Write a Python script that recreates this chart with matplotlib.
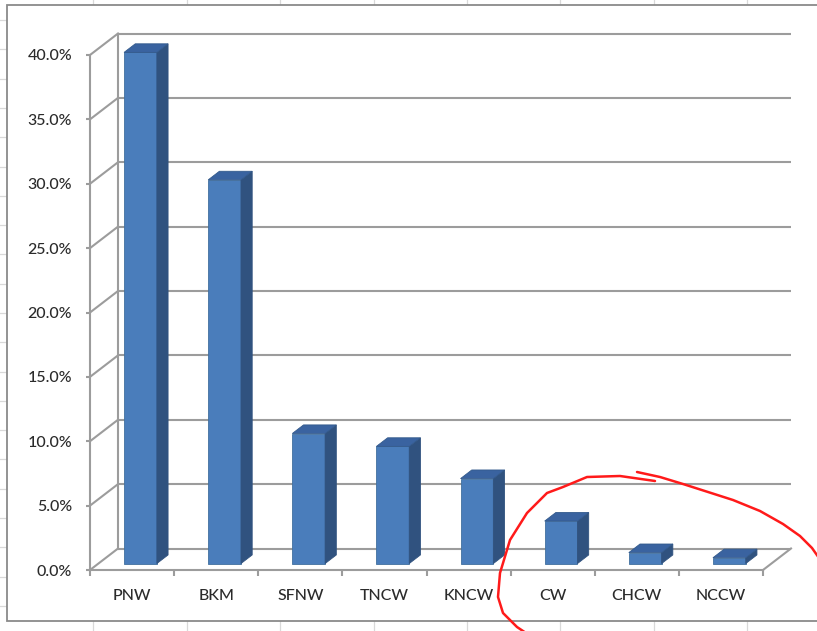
import numpy as np
import matplotlib
matplotlib.use("Agg")
import matplotlib.pyplot as plt
from matplotlib.patches import Polygon, Rectangle
from matplotlib.ticker import FuncFormatter, FixedLocator

# ---- data ----
categories = ["PNW", "BKM", "SFNW", "TNCW", "KNCW", "CW", "CHCW", "NCCW"]
values = [39.7, 29.8, 10.1, 9.1, 6.6, 3.3, 0.85, 0.45]   # percent
y_ticks = [0, 5, 10, 15, 20, 25, 30, 35, 40]

W, H = 817, 631
fig = plt.figure(figsize=(W / 100, H / 100), dpi=100)
fig.patch.set_facecolor("white")

FONT = ["Lato", "DejaVu Sans"]
TXT = "#2b2b2b"

# ---- spreadsheet background (pixel coordinates) ----
bg = fig.add_axes([0, 0, 1, 1], zorder=0)
bg.set_xlim(0, W)
bg.set_ylim(H, 0)
bg.axis("off")
for xv in np.arange(93.4, W, 93.4):
    bg.plot([xv, xv], [0, H], color="#d9d9d9", lw=0.9)
for yv in np.arange(20, H, 29.3):
    bg.plot([0, W], [yv, yv], color="#d9d9d9", lw=0.9)
bg.add_patch(Rectangle((7, 5), W + 20, 616, facecolor="white",
                       edgecolor="#8a8a8a", lw=1.3, zorder=2))

# ---- main (front plane) axes ----
x_left, x_right = 90, 763
y_zero, y_top = 570, 55
ax = fig.add_axes([x_left / W, (H - y_zero) / H,
                   (x_right - x_left) / W, (y_zero - y_top) / H], zorder=1)
ax.set_facecolor("none")
n = len(categories)
ax.set_xlim(-0.5, n - 0.5)
ax.set_ylim(0, 40)

px_per_x = (x_right - x_left) / n
px_per_y = (y_zero - y_top) / 40.0
DX = 28 / px_per_x          # full depth offset in data units
DY = 21.5 / px_per_y

GRID = "#9c9c9c"
LW = 1.5

# back wall gridlines + side wall diagonals
for v in y_ticks:
    ax.plot([-0.5 + DX, n - 0.5 + DX], [v + DY, v + DY], color=GRID, lw=LW,
            clip_on=False, zorder=1, solid_capstyle="butt")
    ax.plot([-0.5, -0.5 + DX], [v, v + DY], color=GRID, lw=LW,
            clip_on=False, zorder=1)
ax.plot([-0.5 + DX, -0.5 + DX], [DY, 40 + DY], color=GRID, lw=LW,
        clip_on=False, zorder=1)
# floor right edge
ax.plot([n - 0.5, n - 0.5 + DX], [0, DY], color=GRID, lw=LW,
        clip_on=False, zorder=1)

# ---- 3D bars ----
FRONT = "#4a7dbb"
SIDE = "#30527f"
TOP = "#3a63a0"
f0, f1 = 0.3, 0.7
bw = 0.39
for i, v in enumerate(values):
    x0 = i - bw / 2 + f0 * DX
    x1 = i + bw / 2 + f0 * DX
    yb = f0 * DY
    yt = v + f0 * DY
    ddx = (f1 - f0) * DX
    ddy = (f1 - f0) * DY
    front = Polygon([(x0, yb), (x1, yb), (x1, yt), (x0, yt)], closed=True,
                    facecolor=FRONT, edgecolor="#41709f", lw=0.6,
                    clip_on=False, zorder=3)
    side = Polygon([(x1, yb), (x1 + ddx, yb + ddy), (x1 + ddx, yt + ddy),
                    (x1, yt)], closed=True, facecolor=SIDE, edgecolor=SIDE,
                   lw=0.6, clip_on=False, zorder=3)
    top = Polygon([(x0, yt), (x1, yt), (x1 + ddx, yt + ddy), (x0 + ddx, yt + ddy)],
                  closed=True, facecolor=TOP, edgecolor="#335a8c", lw=0.6,
                  clip_on=False, zorder=3)
    for p in (front, side, top):
        ax.add_patch(p)

# ---- axes styling ----
for s in ("top", "right"):
    ax.spines[s].set_visible(False)
for s in ("left", "bottom"):
    ax.spines[s].set_color(GRID)
    ax.spines[s].set_linewidth(LW)
    ax.spines[s].set_zorder(2)

ax.set_yticks(y_ticks)
ax.yaxis.set_major_formatter(FuncFormatter(lambda v, p: f"{v:.1f}%"))
ax.tick_params(axis="y", length=3, width=LW, color=GRID, pad=10,
               labelsize=11.5, labelcolor=TXT)

ax.set_xticks(range(n))
ax.set_xticklabels(categories)
ax.xaxis.set_minor_locator(FixedLocator(np.arange(-0.5, n, 1.0)))
ax.tick_params(axis="x", which="major", length=0, pad=13.5,
               labelsize=11.5, labelcolor=TXT)
ax.tick_params(axis="x", which="minor", length=4.5, width=LW, color=GRID)
for lab in ax.get_xticklabels() + ax.get_yticklabels():
    lab.set_fontfamily(FONT)
    lab.set_fontweight("medium")

# ---- red hand-drawn annotation (pixel coordinates) ----
ov = fig.add_axes([0, 0, 1, 1], zorder=5)
ov.set_xlim(0, W)
ov.set_ylim(H, 0)
ov.axis("off")
left_arc = [(655, 481), (620, 476), (587, 477), (563, 487), (547, 493),
            (527, 513), (510, 540), (500, 573), (498, 597), (503, 613),
            (517, 627), (526, 633)]
right_arc = [(637, 472), (660, 477), (683, 484), (733, 500), (760, 511),
             (783, 524), (800, 536), (812, 548), (819, 558)]
for arc in (left_arc, right_arc):
    xs, ys = zip(*arc)
    ov.plot(xs, ys, color="#ff1a1a", lw=1.8, solid_capstyle="round",
            solid_joinstyle="round", clip_on=False)

fig.savefig("out.png", dpi=100)
